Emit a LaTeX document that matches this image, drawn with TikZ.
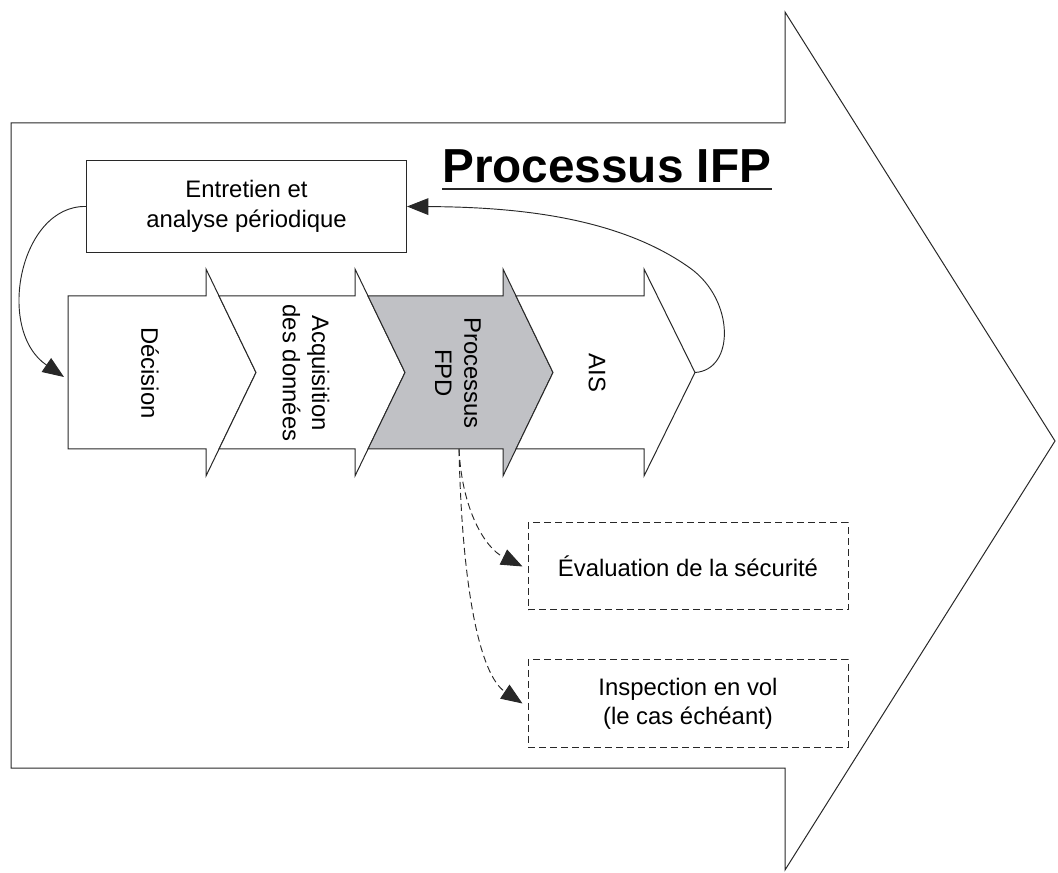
\documentclass[tikz,border=0pt]{standalone}
\usepackage{fontspec}
\setmainfont{Liberation Sans}
\usetikzlibrary{arrows.meta}
\definecolor{fpdgray}{RGB}{192,193,197}
\definecolor{inkline}{RGB}{40,40,40}

\begin{document}
\begin{tikzpicture}[x=0.75pt,y=-0.75pt,
  outline/.style={draw=inkline, line width=0.75pt, line join=miter},
  txt/.style={font=\fontsize{17.9}{22}\selectfont, align=center, inner sep=0pt, text=black},
  vtxt/.style={txt, rotate=-90},
  plainbox/.style={outline, txt, minimum width=240pt},
  dashbox/.style={plainbox, dash pattern=on 5.25pt off 3pt},
  link/.style={draw=inkline, line width=0.7pt, -{Triangle[length=16pt,width=12.5pt]}},
  dashlink/.style={link, dash pattern=on 5.25pt off 3pt},
]
\useasboundingbox (0,0) rectangle (1058,873);

% large outer arrow
\draw[outline] (11,123) -- (785,123) -- (785,12) -- (1055,441)
  -- (785,870) -- (785,768) -- (11,768) -- cycle;

% row of chevrons
\draw[outline, fill=white] (68,296) -- (206,296) -- (206,269) -- (256,372.5)
  -- (206,476) -- (206,449) -- (68,449) -- cycle;
\draw[outline, fill=white] (219,296) -- (355,296) -- (355,269) -- (405,372.5)
  -- (355,476) -- (355,449) -- (219,449) -- (256,372.5) -- cycle;
\draw[outline, fill=fpdgray] (368,296) -- (503,296) -- (503,269) -- (553,372.5)
  -- (503,476) -- (503,449) -- (368,449) -- (405,372.5) -- cycle;
\draw[outline, fill=white] (516,296) -- (644,296) -- (644,269) -- (695,372.5)
  -- (644,476) -- (644,449) -- (516,449) -- (553,372.5) -- cycle;

\node[vtxt] (decision) at (150,373) {Décision};
\node[vtxt] (acq) at (306,373) {Acquisition\\des données};
\node[vtxt] (fpd) at (458,373) {Processus\\FPD};
\node[vtxt] (ais) at (597,373) {AIS};

\coordinate (aistip) at (695,372.5);
\coordinate (decin) at (64,377);
\coordinate (fpdfoot) at (459,449);

% title
\node[anchor=base west, inner sep=0pt, font=\fontsize{35.8}{40}\selectfont\bfseries]
  (title) at (442,183) {Processus IFP};
\draw[line width=1.5pt, inkline] ([yshift=-4.5pt]title.base west) -- ([yshift=-4.5pt]title.base east);

% boxes
\node[plainbox, minimum height=69pt] (entretien) at (246.5,206.5)
  {Entretien et\\analyse périodique};
\node[dashbox, minimum height=65.25pt] (eval) at (688,566.5)
  {Évaluation de la sécurité};
\node[dashbox, minimum height=65.25pt] (insp) at (688,703.5)
  {Inspection en vol\\(le cas échéant)};

% connectors
\draw[link] (entretien.west) .. controls (20,205) and (-5,330) .. (decin);
\draw[link] (aistip) .. controls (735,370) and (735,300) .. (690,268)
  .. controls (620,218) and (520,207) .. (entretien.east);
\draw[dashlink] (fpdfoot) .. controls (462,510) and (485,548) .. ([xshift=-3.75pt]eval.west);
\draw[dashlink] (fpdfoot) .. controls (462,590) and (480,675) .. ([xshift=-3.75pt]insp.west);
\end{tikzpicture}
\end{document}
